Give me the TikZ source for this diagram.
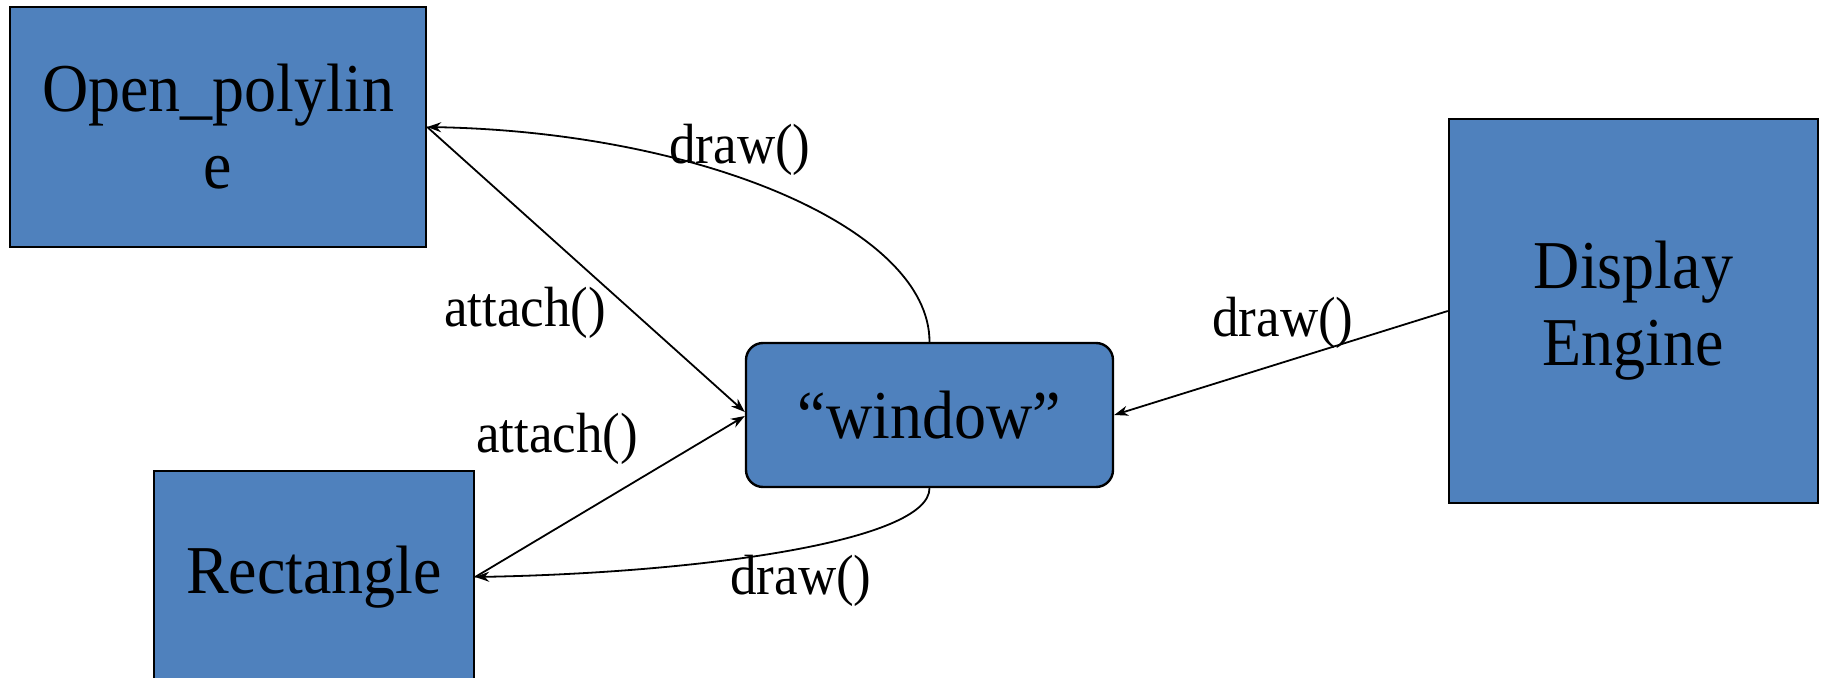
\documentclass[tikz,border=0pt]{standalone}
\usepackage{fontspec}
\setmainfont{Liberation Serif}
\usetikzlibrary{arrows.meta,calc}
\definecolor{boxblue}{HTML}{4F81BD}
\newcommand{\tallt}[1]{\scalebox{1}[1.07]{#1}}
\tikzset{
  blk/.style={draw=black, line width=1.2pt, fill=boxblue, inner sep=0pt, align=center,
    font=\fontsize{32pt}{38.5pt}\selectfont},
  lbl/.style={inner sep=0pt, font=\fontsize{26.5pt}{32pt}\selectfont},
  arr/.style={draw=black, line width=0.9pt, -{Stealth[length=7pt,width=5pt]}}
}
\begin{document}
\begin{tikzpicture}[x=0.5pt,y=0.5pt]
\useasboundingbox (0,0) rectangle (1821,-678);
\node[blk, minimum width=208pt, minimum height=120pt] (op) at (218,-127) {\tallt{Open\_polylin}\\\tallt{e}};
\node[blk, minimum width=184.5pt, minimum height=192pt] (de) at (1633.5,-311) {\tallt{Display}\\\tallt{Engine}};
\node[blk, rounded corners=8.5pt, minimum width=183.5pt, minimum height=72pt] (win) at (929.5,-415) {\tallt{“window”}};
\node[blk, minimum width=160pt, minimum height=106pt] (rect) at (314,-577) {\tallt{Rectangle}};

\draw[arr] (win.north) .. controls +(0,113) and +(274,-5) .. (op.east);
\draw[arr] (op.east) -- ($(win.west)+(0,3)$);
\draw[arr] (rect.east) -- ($(win.west)+(0,-1)$);
\draw[arr] (win.south) .. controls +(0,-53) and +(225,4) .. (rect.east);
\draw[arr] (de.west) -- (win.east);

\node[lbl] (l1) at (740,-150) {\tallt{draw()}};
\node[lbl] (l2) at (525,-313) {\tallt{attach()}};
\node[lbl] (l3) at (557,-439) {\tallt{attach()}};
\node[lbl] (l4) at (801,-581) {\tallt{draw()}};
\node[lbl] (l5) at (1283,-323) {\tallt{draw()}};
\end{tikzpicture}
\end{document}
